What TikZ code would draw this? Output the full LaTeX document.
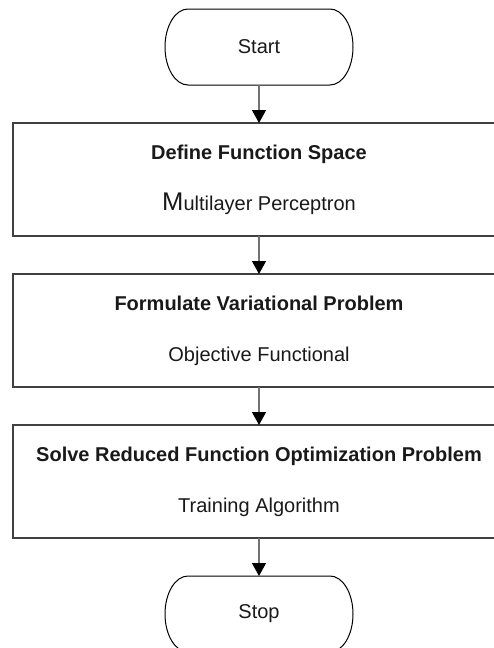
\documentclass[tikz,border=0pt]{standalone}
\usepackage{fontspec}
\setmainfont{Liberation Sans}
\usetikzlibrary{positioning,arrows.meta}

\begin{document}
\begin{tikzpicture}[x=1pt,y=1pt,node distance=38pt,every node/.style={font=\fontsize{20}{24}\selectfont, align=center, inner sep=0pt, outer sep=0pt, text=black!90},stepbox/.style={draw=black!75, line width=1.3pt, minimum width=492pt, minimum height=113pt},terminal/.style={minimum width=188pt, minimum height=76pt},flow/.style={draw=black!55, line width=1.3pt, -{Triangle[width=14pt,length=13pt,color=black]}}]
\useasboundingbox (0,0) rectangle (493,-648);
\node[terminal] (start) at (259,-47) {Start};
\node[stepbox, below=of start] (space) {\textbf{Define Function Space}\\[27pt]{\fontsize{25.6}{24}\selectfont M}ultilayer Perceptron};
\node[stepbox, below=of space] (problem) {\textbf{Formulate Variational Problem}\\[27pt]Objective Functional};
\node[stepbox, below=of problem] (solve) {\textbf{Solve Reduced Function Optimization Problem}\\[27pt]Training Algorithm};
\node[terminal, below=of solve] (stop) {Stop};
% terminal outlines with elliptic ends
\foreach \n in {start,stop}
  \draw[line width=1pt] ([xshift=23pt]\n.north west) -- ([xshift=-23pt]\n.north east) arc[start angle=90, end angle=-90, x radius=23pt, y radius=38pt] -- ([xshift=23pt]\n.south west) arc[start angle=270, end angle=90, x radius=23pt, y radius=38pt] -- cycle;
\draw[flow] (start) -- (space);
\draw[flow] (space) -- (problem);
\draw[flow] (problem) -- (solve);
\draw[flow] (solve) -- (stop);
\end{tikzpicture}
\end{document}
